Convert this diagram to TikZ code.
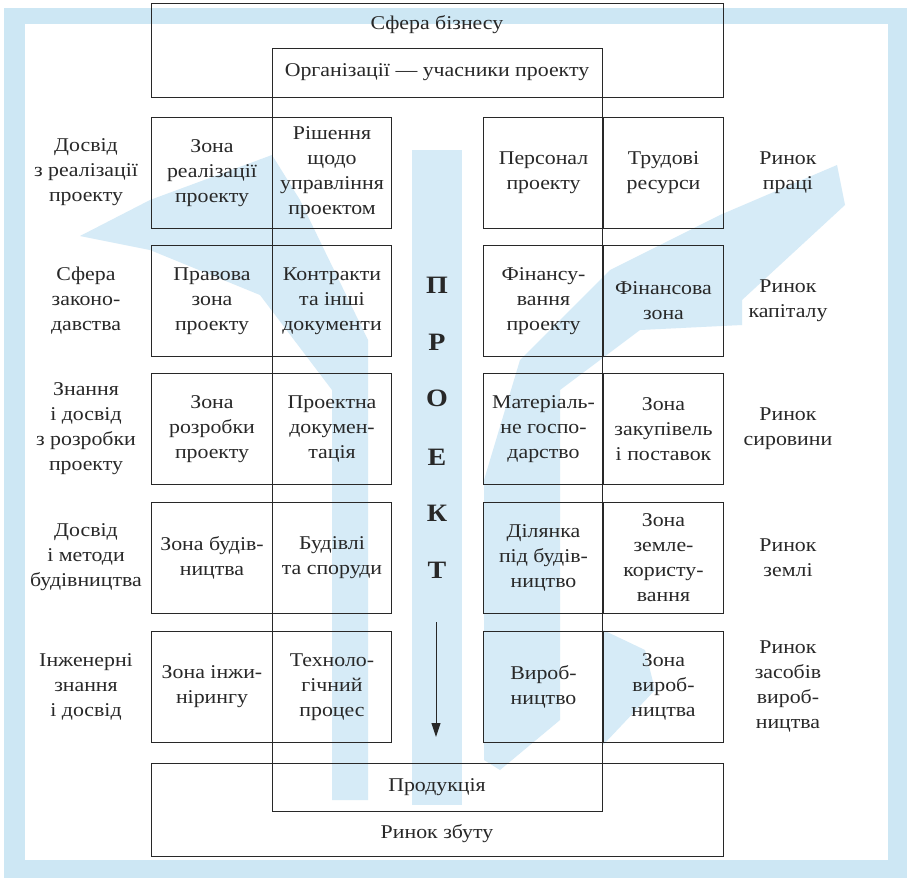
\documentclass[tikz,border=0pt]{standalone}
\usepackage{fontspec}
\setmainfont{Liberation Serif}[FakeStretch=1.12]
\newfontfamily\dfont{Liberation Serif}[FakeStretch=1.12]
\usetikzlibrary{arrows.meta}
\definecolor{bgblue}{RGB}{205,231,244}
\definecolor{wmblue}{RGB}{214,235,247}
\definecolor{ink}{RGB}{40,40,40}
\newcommand\fsz{\dfont\fontsize{19.5}{25}\selectfont}
\begin{document}
\begin{tikzpicture}[x=1pt,y=-1pt,
  cell/.style={draw=ink, line width=1pt, minimum width=#1, minimum height=111pt,
    anchor=north west, inner sep=0pt, align=center, font=\fsz, text=ink},
  bigbox/.style={draw=ink, line width=1pt, anchor=north west, inner sep=0pt},
  lab/.style={align=center, font=\fsz, text=ink, inner sep=0pt},
  letter/.style={font=\dfont\fontsize{25}{25}\selectfont\bfseries, text=ink, inner sep=0pt},
  wm/.style={fill=wmblue, draw=none}]
\useasboundingbox (0,0) rectangle (907,879);
% background frame
\fill[bgblue] (4,8) rectangle (907,878);
\fill[white] (25,24) rectangle (888,860);
% watermark (approximate)
\fill[wm] (412,150) rectangle (462,805);
\fill[wm] (80,236) -- (150,200) -- (272,155) -- (300,200) -- (368,340) -- (368,800) -- (332,800) -- (332,390) -- (260,295) -- (150,250) -- cycle;
\fill[wm] (837,165) -- (845,205) -- (742,300) -- (742,325) -- (640,330) -- (560,390) -- (560,720) -- (500,770) -- (484,760) -- (484,480) -- (520,360) -- (610,270) -- (720,215) -- cycle;
\fill[wm] (603,630) -- (645,650) -- (655,690) -- (603,745) -- cycle;
% top and bottom boxes
\node[bigbox, minimum width=572pt, minimum height=94pt] (biz) at (151,3) {};
\node[lab] (biztxt) at (437,25) {Сфера бізнесу};
\node[bigbox, minimum width=330pt, minimum height=763pt] (org) at (272,48) {};
\node[lab] (orgtxt) at (437,72) {Організації — учасники проекту};
\node[bigbox, minimum width=572pt, minimum height=93pt] (mkt) at (151,763) {};
\node[lab] (prodtxt) at (437,787) {Продукція};
\node[lab] (mkttxt) at (437,834) {Ринок збуту};
% row 1
\node[cell=121pt] (a1) at (151,117) {Зона\\реалізації\\проекту};
\node[cell=119pt] (b1) at (272,117) {Рішення\\щодо\\управління\\проектом};
\node[cell=120pt] (c1) at (483,117) {Персонал\\проекту};
\node[cell=120pt] (d1) at (603,117) {Трудові\\ресурси};
\node[lab] (l1) at (86,172.5) {Досвід\\з реалізації\\проекту};
\node[lab] (r1) at (788,172.5) {Ринок\\праці};
% row 2
\node[cell=121pt] (a2) at (151,245) {Правова\\зона\\проекту};
\node[cell=119pt] (b2) at (272,245) {Контракти\\та інші\\документи};
\node[cell=120pt] (c2) at (483,245) {Фінансу-\\вання\\проекту};
\node[cell=120pt] (d2) at (603,245) {Фінансова\\зона};
\node[lab] (l2) at (86,300.5) {Сфера\\законо-\\давства};
\node[lab] (r2) at (788,300.5) {Ринок\\капіталу};
% row 3
\node[cell=121pt] (a3) at (151,373) {Зона\\розробки\\проекту};
\node[cell=119pt] (b3) at (272,373) {Проектна\\докумен-\\тація};
\node[cell=120pt] (c3) at (483,373) {Матеріаль-\\не госпо-\\дарство};
\node[cell=120pt] (d3) at (603,373) {Зона\\закупівель\\і поставок};
\node[lab] (l3) at (86,428.5) {Знання\\і досвід\\з розробки\\проекту};
\node[lab] (r3) at (788,428.5) {Ринок\\сировини};
% row 4
\node[cell=121pt] (a4) at (151,502) {Зона будів-\\ництва};
\node[cell=119pt] (b4) at (272,502) {Будівлі\\та споруди};
\node[cell=120pt] (c4) at (483,502) {Ділянка\\під будів-\\ництво};
\node[cell=120pt] (d4) at (603,502) {Зона\\земле-\\користу-\\вання};
\node[lab] (l4) at (86,557.5) {Досвід\\і методи\\будівництва};
\node[lab] (r4) at (788,557.5) {Ринок\\землі};
% row 5
\node[cell=121pt] (a5) at (151,631) {Зона інжи-\\нірингу};
\node[cell=119pt] (b5) at (272,631) {Техноло-\\гічний\\процес};
\node[cell=120pt] (c5) at (483,631) {Вироб-\\ництво};
\node[cell=120pt] (d5) at (603,631) {Зона\\вироб-\\ництва};
\node[lab] (l5) at (86,686.5) {Інженерні\\знання\\і досвід};
\node[lab] (r5) at (788,686.5) {Ринок\\засобів\\вироб-\\ництва};
% vertical word
\node[letter] (p1) at (437,285) {П};
\node[letter] (p2) at (437,342) {Р};
\node[letter] (p3) at (437,398) {О};
\node[letter] (p4) at (437,457) {Е};
\node[letter] (p5) at (437,513) {К};
\node[letter] (p6) at (437,570) {Т};
\coordinate (arrS) at (436,622);
\coordinate (arrE) at (436,737);
\draw[ink, line width=1pt, -{Triangle[length=14pt,width=9pt]}] (arrS) -- (arrE);
\end{tikzpicture}
\end{document}
